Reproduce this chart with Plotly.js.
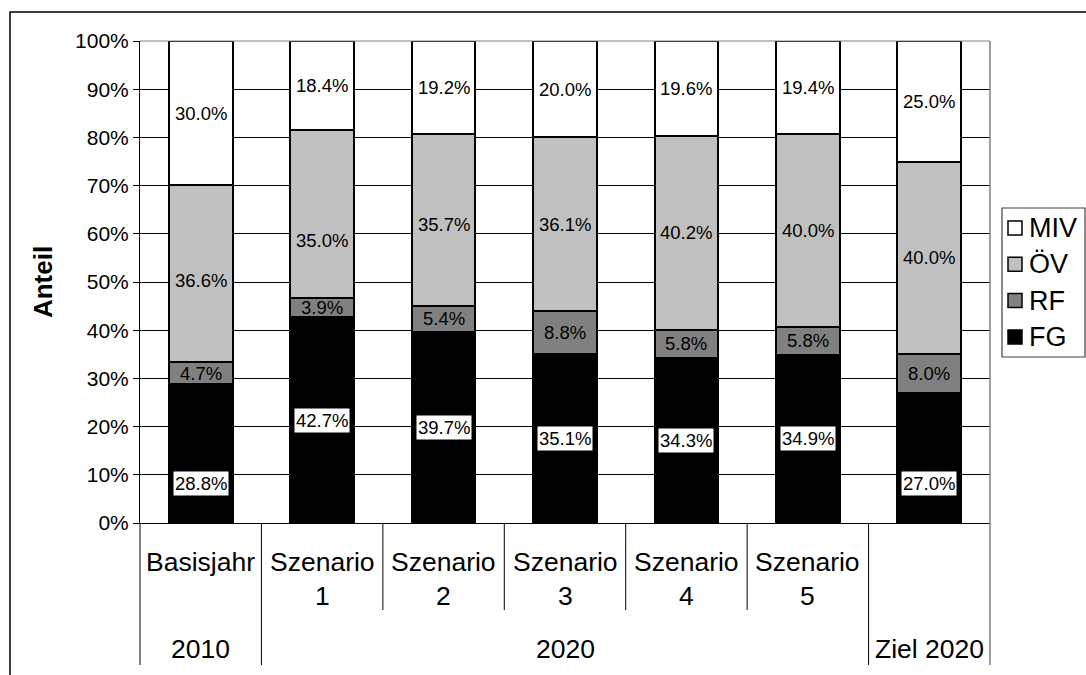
<!DOCTYPE html>
<html>
<head>
<meta charset="utf-8">
<script src="https://cdn.plot.ly/plotly-3.0.1.min.js"></script>
<style>html,body{margin:0;padding:0;background:#fff;}#chart{width:1086px;height:675px;}</style>
</head>
<body>
<div id="chart"></div>
<script>
// ---- data ----
var categories = ["Basisjahr", "Szenario 1", "Szenario 2", "Szenario 3", "Szenario 4", "Szenario 5", "Ziel 2020"];
var catLabels = ["Basisjahr", "Szenario<br>1", "Szenario<br>2", "Szenario<br>3", "Szenario<br>4", "Szenario<br>5", ""];
var groupLabels = ["2010", "2020", "Ziel 2020"];
var groupCenters = [0, 3, 6];          // category index at the centre of each group
var groupBreaks = [0.5, 5.5];          // boundaries between groups
var FG  = [28.8, 42.7, 39.7, 35.1, 34.3, 34.9, 27.0];
var RF  = [4.7, 3.9, 5.4, 8.8, 5.8, 5.8, 8.0];
var OEV = [36.6, 35.0, 35.7, 36.1, 40.2, 40.0, 40.0];
var MIV = [30.0, 18.4, 19.2, 20.0, 19.6, 19.4, 25.0];
var yTicks = [0, 10, 20, 30, 40, 50, 60, 70, 80, 90, 100];

var seriesList = [
  {name: "FG",  vals: FG,  color: "#000000"},
  {name: "RF",  vals: RF,  color: "#808080"},
  {name: "ÖV",  vals: OEV, color: "#c0c0c0"},
  {name: "MIV", vals: MIV, color: "#ffffff"}
];

var FONT = "Liberation Sans, Arial, Helvetica, sans-serif";

var traces = seriesList.map(function (s) {
  return {
    type: "bar",
    name: s.name,
    x: categories,
    y: s.vals,
    marker: {color: s.color, line: {color: "#000000", width: 2}},
    showlegend: false,
    hoverinfo: "skip"
  };
});

// label nudges (pixels) where the original chart placed labels off-centre
var nudge = {"FG-0": -30, "FG-6": -26, "ÖV-1": -26, "ÖV-0": -7, "ÖV-2": -5};

var annotations = [];
var shapes = [];
categories.forEach(function (c, i) {
  var total = 0;
  seriesList.forEach(function (s) { total += s.vals[i]; });
  var cum = 0;
  seriesList.forEach(function (s) {
    var v = s.vals[i];
    var mid = (cum + v / 2) / total * 100;
    cum += v;
    annotations.push({
      xref: "x", yref: "y", x: c, y: mid,
      text: v.toFixed(1) + "%",
      showarrow: false,
      yshift: nudge[s.name + "-" + i] || 0,
      font: {family: FONT, size: 18.5, color: "#000"},
      bgcolor: s.name === "FG" ? "#ffffff" : "rgba(0,0,0,0)",
      borderpad: 1
    });
  });
  // category labels
  annotations.push({
    xref: "x", yref: "paper", x: c, y: catLabels[i].indexOf("<br>") >= 0 ? -0.1162 : -0.0809,
    text: catLabels[i], showarrow: false, yanchor: "middle",
    font: {family: FONT, size: 26.5, color: "#000"}
  });
});
groupLabels.forEach(function (g, j) {
  annotations.push({
    xref: "x", yref: "paper", x: groupCenters[j], y: -0.2614,
    text: g, showarrow: false, yanchor: "middle",
    font: {family: FONT, size: 26.5, color: "#000"}
  });
});

// ---- legend (drawn as a box with swatches, top entry = top of stack) ----
var legTop = 228, legStep = 36.3;
function py(p) { return (523 - p) / 482; }
function px(p) { return (p - 140) / 850; }
shapes.push({type: "rect", xref: "paper", yref: "paper", x0: px(1002), x1: px(1085), y0: py(357), y1: py(208),
             line: {color: "#404040", width: 1.2}, fillcolor: "#ffffff"});
seriesList.slice().reverse().forEach(function (s, j) {
  var cy = legTop + j * legStep;
  shapes.push({type: "rect", xref: "paper", yref: "paper", x0: px(1008), x1: px(1022), y0: py(cy + 7), y1: py(cy - 7),
               line: {color: "#000", width: 1.5}, fillcolor: s.color});
  annotations.push({xref: "paper", yref: "paper", x: px(1027), y: py(cy), xanchor: "left", yanchor: "middle",
                    text: s.name, showarrow: false, font: {family: FONT, size: 27, color: "#000"}});
});

// plot-area top and right edge (grey)
shapes.push({type: "line", xref: "paper", yref: "paper", x0: 0, x1: 1, y0: 1, y1: 1, line: {color: "#808080", width: 1}});
shapes.push({type: "line", xref: "paper", yref: "paper", x0: 1, x1: 1, y0: -0.2946, y1: 1, line: {color: "#808080", width: 1.5}});
// left axis continued downward
shapes.push({type: "line", xref: "paper", yref: "paper", x0: 0, x1: 0, y0: -0.2946, y1: 0, line: {color: "#000", width: 1}});
// category separators
for (var k = 0; k < categories.length - 1; k++) {
  var b = k + 0.5;
  var isGroup = groupBreaks.indexOf(b) >= 0;
  shapes.push({type: "line", xref: "x", yref: "paper", x0: b, x1: b, y0: isGroup ? -0.2946 : -0.1805, y1: 0,
               line: {color: "#000", width: 1}});
}
// outer frame
shapes.push({type: "rect", xref: "paper", yref: "paper", x0: px(10), x1: 1.2, y0: -0.4, y1: py(12),
             line: {color: "#000", width: 1.5}, fillcolor: "rgba(0,0,0,0)"});

var layout = {
  width: 1086, height: 675,
  margin: {l: 140, r: 96, t: 41, b: 152, pad: 0},
  paper_bgcolor: "#fff", plot_bgcolor: "#fff",
  barmode: "stack", barnorm: "percent", bargap: 0.475,
  font: {family: FONT, color: "#000"},
  showlegend: false,
  xaxis: {
    type: "category", showticklabels: false, ticks: "", showgrid: false,
    showline: true, linecolor: "#000", linewidth: 1, zeroline: false,
    range: [-0.5, 6.5], fixedrange: true
  },
  yaxis: {
    range: [0, 100], tickvals: yTicks, ticktext: yTicks.map(function (t) { return t + "%"; }),
    ticks: "outside", ticklen: 6, tickcolor: "#000", tickwidth: 1,
    showline: true, linecolor: "#000", linewidth: 1,
    showgrid: true, gridcolor: "#000", gridwidth: 1, zeroline: false,
    tickfont: {family: FONT, size: 21, color: "#000"},
    title: {text: "Anteil", font: {family: FONT, size: 26, color: "#000", weight: "bold"}, standoff: 14},
    automargin: false, fixedrange: true
  },
  annotations: annotations,
  shapes: shapes
};

Plotly.newPlot("chart", traces, layout, {displayModeBar: false, staticPlot: true});
</script>
</body>
</html>
